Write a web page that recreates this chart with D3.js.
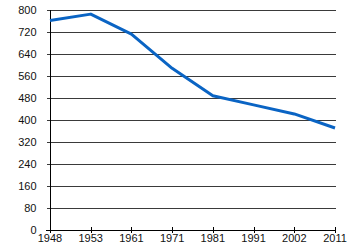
<!DOCTYPE html>
<html><head><meta charset="utf-8">
<script src="https://cdn.jsdelivr.net/npm/d3@7"></script>
<style>body{margin:0;background:#fff}svg{display:block}</style>
</head><body>
<script>
const years = ["1948","1953","1961","1971","1981","1991","2002","2011"];
const values = [762, 785, 712, 588, 488, 455, 422, 371];
const yTicks = [0,80,160,240,320,400,480,560,640,720,800];

const W = 350, H = 250;
const svg = d3.select("body").append("svg").attr("width", W).attr("height", H);
const x = d3.scalePoint().domain(years).range([50, 335]);
const y = d3.scaleLinear().domain([0, 800]).range([230, 10]);
const font = "Liberation Sans, Arial, sans-serif";

// grid
svg.append("g").selectAll("line").data(yTicks.filter(d => d > 0)).join("line")
  .attr("x1", 47).attr("x2", 336)
  .attr("y1", d => Math.round(y(d)) + 0.5).attr("y2", d => Math.round(y(d)) + 0.5)
  .attr("stroke", "#3a3a3a").attr("stroke-width", 1);

// y labels
svg.append("g").selectAll("text").data(yTicks).join("text")
  .attr("x", 36.5).attr("y", d => y(d)).attr("dy", "0.35em")
  .attr("text-anchor", "end").attr("font-family", font).attr("font-size", 11)
  .attr("fill", "#111").text(d => d);

// axes lines
svg.append("line").attr("x1", 50.5).attr("x2", 50.5).attr("y1", 10).attr("y2", 231)
  .attr("stroke", "#000");
svg.append("line").attr("x1", 46).attr("x2", 336).attr("y1", 230.5).attr("y2", 230.5)
  .attr("stroke", "#000");

// x ticks
svg.append("g").selectAll("line").data(years).join("line")
  .attr("x1", d => Math.round(x(d)) + 0.5).attr("x2", d => Math.round(x(d)) + 0.5)
  .attr("y1", 227).attr("y2", 233).attr("stroke", "#000");

svg.append("g").selectAll("text").data(years).join("text")
  .attr("x", d => x(d)).attr("y", 242)
  .attr("text-anchor", "middle").attr("font-family", font).attr("font-size", 11)
  .attr("fill", "#111").text(d => d);

// line
const line = d3.line().x((d, i) => x(years[i])).y(d => y(d));
svg.append("path").datum(values).attr("d", line)
  .attr("fill", "none").attr("stroke", "#0a64c4").attr("stroke-width", 3)
  .attr("stroke-linejoin", "round");
</script>
</body></html>
